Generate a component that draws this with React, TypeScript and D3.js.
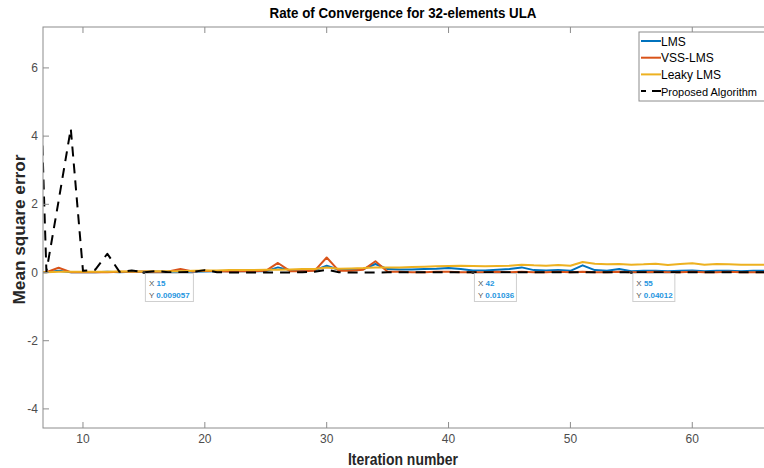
import React from 'react';
import * as d3 from 'd3';

const iterations = [6, 7, 8, 9, 10, 11, 12, 13, 14, 15, 16, 17, 18, 19, 20, 21, 22, 23, 24, 25, 26, 27, 28, 29, 30, 31, 32, 33, 34, 35, 36, 37, 38, 39, 40, 41, 42, 43, 44, 45, 46, 47, 48, 49, 50, 51, 52, 53, 54, 55, 56, 57, 58, 59, 60, 61, 62, 63, 64, 65, 66, 67];

const lms = [0.01, 0.01, 0.05, 0.01, 0.01, 0.01, 0.02, 0.01, 0.02, 0.02, 0.02, 0.02, 0.03, 0.02, 0.03, 0.04, 0.04, 0.04, 0.04, 0.04, 0.15, 0.07, 0.07, 0.06, 0.2, 0.08, 0.08, 0.1, 0.25, 0.1, 0.09, 0.09, 0.1, 0.11, 0.13, 0.1, 0.06, 0.06, 0.08, 0.1, 0.15, 0.07, 0.06, 0.07, 0.05, 0.21, 0.07, 0.05, 0.1, 0.04, 0.05, 0.05, 0.04, 0.05, 0.06, 0.04, 0.05, 0.05, 0.04, 0.05, 0.05, 0.05];

const vssLms = [0.02, 0.01, 0.14, 0.01, 0.01, 0.01, 0.01, 0.02, 0.02, 0.03, 0.02, 0.03, 0.1, 0.03, 0.05, 0.04, 0.03, 0.04, 0.04, 0.05, 0.28, 0.04, 0.04, 0.05, 0.44, 0.05, 0.05, 0.08, 0.33, 0.02, 0.02, 0.01, 0.01, 0.02, 0.02, 0.01, 0.01, 0.01, 0.02, 0.01, 0.02, 0.01, 0.01, 0.02, 0.01, 0.02, 0.01, 0.01, 0.02, 0.01, 0.01, 0.02, 0.01, 0.01, 0.02, 0.01, 0.01, 0.02, 0.01, 0.01, 0.01, 0.01];

const leakyLms = [0.01, 0.01, 0.02, 0.02, 0.02, 0.02, 0.02, 0.03, 0.03, 0.03, 0.04, 0.04, 0.04, 0.05, 0.06, 0.06, 0.07, 0.07, 0.07, 0.08, 0.08, 0.09, 0.1, 0.1, 0.15, 0.11, 0.12, 0.13, 0.15, 0.15, 0.15, 0.16, 0.17, 0.18, 0.19, 0.2, 0.19, 0.18, 0.19, 0.2, 0.23, 0.21, 0.2, 0.22, 0.2, 0.31, 0.26, 0.24, 0.25, 0.23, 0.24, 0.26, 0.22, 0.25, 0.27, 0.23, 0.25, 0.24, 0.23, 0.23, 0.23, 0.23];

const proposed = [11.2, 0.03, 2.1, 4.22, 0.05, 0.08, 0.55, 0.02, 0.06, 0.009, 0.04, 0.01, 0.01, 0.02, 0.07, 0.01, 0.0, 0.0, 0.0, 0.0, 0.0, 0.0, 0.01, 0.02, 0.08, 0.01, 0.0, 0.0, 0.0, 0.005, 0.005, 0.005, 0.005, 0.005, 0.005, 0.005, 0.01, 0.005, 0.005, 0.005, 0.005, 0.005, 0.005, 0.005, 0.005, 0.005, 0.005, 0.005, 0.005, 0.005, 0.005, 0.005, 0.005, 0.005, 0.005, 0.005, 0.005, 0.005, 0.005, 0.005, 0.005, 0.005];

const seriesNames = ['LMS', 'VSS-LMS', 'Leaky LMS', 'Proposed Algorithm'];
const seriesColors = ['#0072BD', '#D95319', '#EDB120', '#000000'];
const xTicks = [10, 20, 30, 40, 50, 60];
const yTicks = [-4, -2, 0, 2, 4, 6];

const tipX = [15, 42, 55];
const tipY = ['0.009057', '0.01036', '0.04012'];
const tipW = [48, 42, 42];

const FONT = 'Liberation Sans, Arial, Helvetica, sans-serif';

export default function App() {
  const L = 43, T = 27, R = 766, B = 428;
  const x = d3.scaleLinear().domain([6.72, 66.05]).range([L, R]);
  const y = d3.scaleLinear().domain([-4.56, 7.2]).range([B, T]);
  const line = d3
    .line<number>()
    .x((_, i) => x(iterations[i]))
    .y((d) => y(d));
  const all = [lms, vssLms, leakyLms, proposed];
  const axisColor = '#8c8c8c';
  const tickColor = '#4d4d4d';

  return (
    <svg width={764} height={468} style={{ position: 'absolute', left: 0, top: 0, background: '#fff' }}>
      <defs>
        <clipPath id="plot">
          <rect x={L} y={T} width={R - L} height={B - T} />
        </clipPath>
      </defs>
      <rect x={0} y={0} width={764} height={468} fill="#fff" />
      <g clipPath="url(#plot)">
        {all.map((s, k) => (
          <path
            key={k}
            d={line(s) || ''}
            fill="none"
            stroke={seriesColors[k]}
            strokeWidth={2}
            strokeDasharray={k === 3 ? '10,7' : undefined}
            strokeLinejoin="round"
          />
        ))}
      </g>
      {/* axes box */}
      <rect x={L} y={T} width={R - L} height={B - T} fill="none" stroke={axisColor} strokeWidth={1} />
      {xTicks.map((t) => (
        <g key={'x' + t}>
          <line x1={x(t)} x2={x(t)} y1={B} y2={B - 6} stroke={axisColor} />
          <line x1={x(t)} x2={x(t)} y1={T} y2={T + 6} stroke={axisColor} />
          <text x={x(t)} y={B + 15} textAnchor="middle" fontFamily={FONT} fontSize={12} fill={tickColor}>
            {t}
          </text>
        </g>
      ))}
      {yTicks.map((t) => (
        <g key={'y' + t}>
          <line x1={L} x2={L + 6} y1={y(t)} y2={y(t)} stroke={axisColor} />
          <text x={L - 5} y={y(t) + 4} textAnchor="end" fontFamily={FONT} fontSize={12} fill={tickColor}>
            {t}
          </text>
        </g>
      ))}
      {/* title and labels */}
      <text x={403} y={18} textAnchor="middle" fontFamily={FONT} fontSize={14} fontWeight="bold" fill="#000" textLength={267} lengthAdjust="spacingAndGlyphs">
        Rate of Convergence for 32-elements ULA
      </text>
      <text x={403} y={465} textAnchor="middle" fontFamily={FONT} fontSize={16} fontWeight="bold" fill="#262626" textLength={110} lengthAdjust="spacingAndGlyphs">
        Iteration number
      </text>
      <text transform={`translate(25, ${(T + B) / 2 + 2}) rotate(-90)`} textAnchor="middle" fontFamily={FONT} fontSize={16} fontWeight="bold" fill="#262626" textLength={150} lengthAdjust="spacingAndGlyphs">
        Mean square error
      </text>
      {/* legend */}
      <rect x={639} y={32} width={140} height={69} fill="#fff" stroke="#8c8c8c" strokeWidth={1} />
      {seriesNames.map((n, k) => (
        <g key={n}>
          <line
            x1={641}
            x2={661}
            y1={41 + k * 16.7}
            y2={41 + k * 16.7}
            stroke={seriesColors[k]}
            strokeWidth={2}
            strokeDasharray={k === 3 ? '5,6,9' : undefined}
          />
          <text
            x={661}
            y={45.5 + k * 16.7}
            fontFamily={FONT}
            fontSize={k === 3 ? 11.5 : 12}
            fill="#000"
            textLength={k === 3 ? 96 : undefined}
            lengthAdjust={k === 3 ? 'spacingAndGlyphs' : undefined}
          >
            {n}
          </text>
        </g>
      ))}
      {/* data tips */}
      {tipX.map((tx, k) => {
        const px = x(tx);
        const py = y(0);
        return (
          <g key={'tip' + k}>
            <rect x={px + 1.5} y={py + 1} width={tipW[k]} height={28} fill="#fff" fillOpacity={0.95} stroke="#cfcfcf" strokeWidth={1} />
            <circle cx={px} cy={py} r={1.6} fill="#333" />
            <text x={px + 5} y={py + 13} fontFamily={FONT} fontSize={8} fill="#555">
              X <tspan fill="#1f96e0" fontWeight="bold">{tx}</tspan>
            </text>
            <text x={px + 5} y={py + 25} fontFamily={FONT} fontSize={8} fill="#555">
              Y <tspan fill="#1f96e0" fontWeight="bold">{tipY[k]}</tspan>
            </text>
          </g>
        );
      })}
    </svg>
  );
}
